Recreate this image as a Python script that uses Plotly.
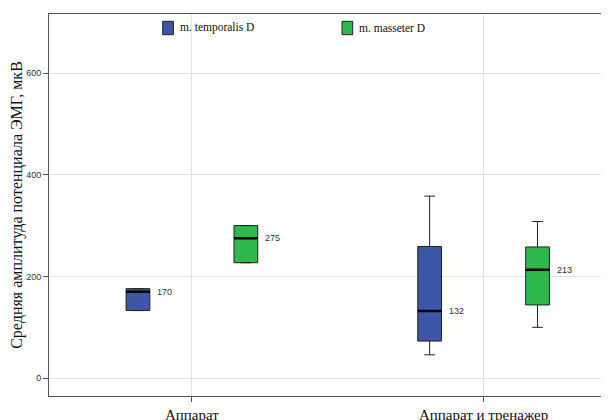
import plotly.graph_objects as go

categories = ["Аппарат", "Аппарат и тренажер"]
series_names = ["m. temporalis D", "m. masseter D"]
colors = ["#3d56a8", "#2fb84b"]

temporalis_low = [133, 46]
temporalis_q1 = [133, 73]
temporalis_med = [170, 132]
temporalis_q3 = [176, 259]
temporalis_high = [176, 358]

masseter_low = [227, 100]
masseter_q1 = [227, 144]
masseter_med = [275, 213]
masseter_q3 = [300, 258]
masseter_high = [300, 308]

yticks = [0, 200, 400, 600]

series = [
    (temporalis_low, temporalis_q1, temporalis_med, temporalis_q3, temporalis_high),
    (masseter_low, masseter_q1, masseter_med, masseter_q3, masseter_high),
]

fig = go.Figure()
for i, (lo, q1, med, q3, hi) in enumerate(series):
    fig.add_trace(go.Box(
        x=categories, q1=q1, median=med, q3=q3, lowerfence=lo, upperfence=hi,
        name=series_names[i], offsetgroup=str(i), fillcolor=colors[i],
        line=dict(color="#222222", width=1), whiskerwidth=0.45,
        showlegend=False, hoverinfo="skip",
    ))
    fig.add_trace(go.Box(
        x=categories, q1=med, median=med, q3=med, lowerfence=med, upperfence=med,
        offsetgroup=str(i), fillcolor="black",
        line=dict(color="black", width=2.5), whiskerwidth=0,
        showlegend=False, hoverinfo="skip",
    ))

# median labels
shifts = [-37, 71]
for i, (lo, q1, med, q3, hi) in enumerate(series):
    for c, m in zip(categories, med):
        fig.add_annotation(x=c, y=m, text=str(m), showarrow=False,
                           xanchor="left", yanchor="middle", xshift=shifts[i],
                           font=dict(family="Liberation Sans", size=9, color="#333333"))

# page body has an 8px margin; figure is offset accordingly
OFF = 8
W, H = 560, 382
L, T = 49 - OFF, 14 - OFF
FW, FH = 609 - OFF, 420 - OFF
def px(xp):
    return (xp - OFF - L) / W
def py(yp):
    return (T + H - (yp - OFF)) / H

leg = [(162.7, 178), (342, 357)]
for i, (sx, tx) in enumerate(leg):
    fig.add_shape(type="rect", xref="paper", yref="paper",
                  x0=px(sx), x1=px(sx + 10.7), y0=py(34.7), y1=py(21.3),
                  fillcolor=colors[i], line=dict(color="#222222", width=1))
    fig.add_annotation(xref="paper", yref="paper", x=px(tx), y=py(28),
                       text=series_names[i], showarrow=False, xanchor="left", yanchor="middle",
                       font=dict(family="Liberation Serif", size=11.5, color="#111111"))

fig.update_layout(
    width=FW, height=FH,
    margin=dict(l=L, r=FW - L - W, t=T, b=FH - T - H, autoexpand=False),
    paper_bgcolor="white", plot_bgcolor="white",
    boxmode="group", boxgap=0.26, boxgroupgap=0.78,
    showlegend=False,
)
fig.update_xaxes(
    type="category", range=[-0.49, 1.43], automargin=False,
    showgrid=True, gridcolor="#e2e2e2", gridwidth=1,
    showline=True, linecolor="#555555", linewidth=1, mirror=True,
    ticks="outside", ticklen=5, tickcolor="#555555",
    tickfont=dict(family="Liberation Serif", size=15, color="#111111"),
    zeroline=False,
)
fig.update_yaxes(
    range=[-35, 716], tickvals=yticks, automargin=False,
    showgrid=True, gridcolor="#e2e2e2", gridwidth=1,
    showline=True, linecolor="#555555", linewidth=1,
    ticks="outside", ticklen=5, tickcolor="#555555",
    tickfont=dict(family="Liberation Sans", size=9, color="#333333"),
    zeroline=False,
    title=dict(text="Средняя амплитуда потенциала ЭМГ, мкВ", standoff=5,
               font=dict(family="Liberation Serif", size=16, color="#111111")),
)

fig.write_html("out.html")
